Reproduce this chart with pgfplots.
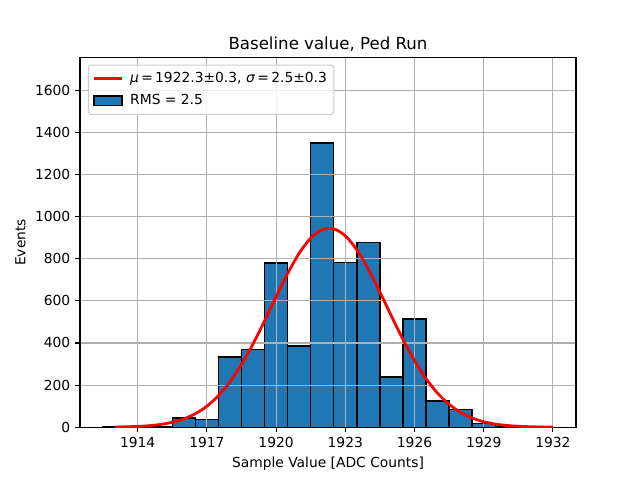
\documentclass[border=0pt]{standalone}
\usepackage{pgfplots}
\pgfplotsset{compat=1.18}
\usepackage{fontspec}
\setmainfont{DejaVu Sans}
\usetikzlibrary{calc}
\definecolor{mplblue}{HTML}{1F77B4}
\definecolor{gridgray}{HTML}{B0B0B0}
\definecolor{leggray}{HTML}{CCCCCC}
\begin{document}
\fontsize{10}{12}\selectfont
\begin{tikzpicture}
\begin{axis}[
 name=ax,
 set layers=standard,
 scale only axis,
 width=357.12bp, height=266.11bp,
 xmin=1911.5, xmax=1933, ymin=0, ymax=1755,
 xtick={1914,1917,...,1932}, ytick={0,200,...,1600},
 /pgf/number format/assume math mode=true,
 /pgf/number format/set thousands separator={},
 tick align=outside, tick pos=left,
 major tick length=3.5bp,
 every tick/.style={black, line width=0.8bp},
 axis line style={line width=0.8bp},
 grid=major, grid style={gridgray, line width=0.8bp},
 tick label style={font=\fontsize{10}{12}\selectfont},
 title={Baseline value, Ped Run},
 title style={font=\fontsize{12}{14}\selectfont, yshift=-5bp},
 xlabel={Sample Value [ADC Counts]},
 ylabel={Events},
 label style={font=\fontsize{10}{12}\selectfont},
 legend cell align=left,
 legend style={at={(0.0161,0.981)}, anchor=north west, draw=leggray, rounded corners=2bp,
   fill=white, fill opacity=0.8, text opacity=1, font=\fontsize{10}{12}\selectfont,
   inner xsep=3bp, inner ysep=3bp, row sep=2.5bp, column sep=3bp, line width=0.8bp,
   nodes={text height=7.5bp, text depth=2bp}},
]
\addplot[red, line width=2bp, smooth,
  legend image code/.code={\draw[red, line width=2bp, sharp corners, draw opacity=1] (0bp,0bp) -- (20bp,0bp);}]
 coordinates {
 (1913,0.93) (1913.5,1.93) (1914,3.82) (1914.5,7.27) (1915,13.3) (1915.5,23.4)
 (1916,39.5) (1916.5,64.1) (1917,99.9) (1917.5,149.6) (1918,215.3) (1918.5,297.7)
 (1919,395.5) (1919.5,504.7) (1920,619.0) (1920.5,729.3) (1921,825.5) (1921.5,897.9)
 (1922,938.2) (1922.5,942.0) (1923,908.7) (1923.5,842.2) (1924,750.0)
 (1924.5,641.7) (1925,527.4) (1925.5,416.6) (1926,316.1) (1926.5,230.5) (1927,161.4)
 (1927.5,108.7) (1928,70.3) (1928.5,43.6) (1929,26.0) (1929.5,14.9) (1930,8.23)
 (1930.5,4.36) (1931,2.22) (1931.5,1.08) (1932,0.51)
 };
\addlegendentry{\textit{μ}\,=\,1922.3±0.3, \textit{σ}\,=\,2.5±0.3}
\addplot[ybar interval, on layer=axis background, fill=mplblue, draw=black, line width=1bp,
  legend image code/.code={\draw[fill=mplblue, draw=black, line width=1bp, sharp corners, fill opacity=1, draw opacity=1] (0bp,-3.5bp) rectangle (20bp,3.5bp);}]
 coordinates {
 (1912.5,2) (1913.5,2) (1914.5,3) (1915.5,43) (1916.5,38) (1917.5,333) (1918.5,368)
 (1919.5,779) (1920.5,385) (1921.5,1350) (1922.5,783) (1923.5,878) (1924.5,238)
 (1925.5,513) (1926.5,125) (1927.5,83) (1928.5,17) (1929.5,3) (1930.5,0)
 };
\addlegendentry{RMS = 2.5}
\end{axis}
\path ($(ax.south west)+(-57.6bp,-38.016bp)$) rectangle ++(460.8bp,345.6bp);
\end{tikzpicture}
\end{document}
